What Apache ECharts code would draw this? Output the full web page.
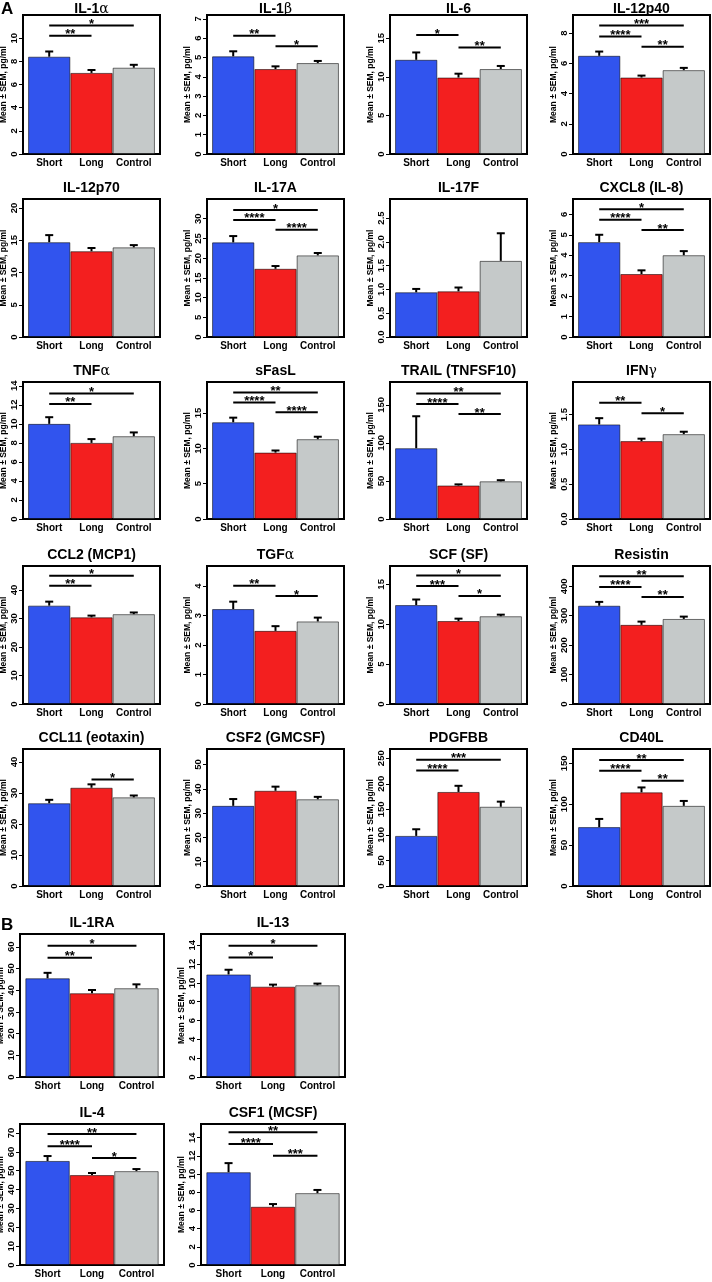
<!DOCTYPE html>
<html>
<head>
<meta charset="utf-8">
<script src="https://cdn.jsdelivr.net/npm/echarts@6/dist/echarts.min.js"></script>
<style>
html, body { margin: 0; padding: 0; background: #fff; }
#chart { width: 712px; height: 1282px; }
</style>
</head>
<body>
<div id="chart"></div>
<script>
// groups on the x axis of every panel
var groups = ['Short', 'Long', 'Control'];

// panel titles ({g|..} = greek letter)
var titles = [
    'IL-1{g|α}', 'IL-1{g|β}', 'IL-6', 'IL-12p40',
    'IL-12p70', 'IL-17A', 'IL-17F', 'CXCL8 (IL-8)',
    'TNF{g|α}', 'sFasL', 'TRAIL (TNFSF10)', 'IFN{g|γ}',
    'CCL2 (MCP1)', 'TGF{g|α}', 'SCF (SF)', 'Resistin',
    'CCL11 (eotaxin)', 'CSF2 (GMCSF)', 'PDGFBB', 'CD40L',
    'IL-1RA', 'IL-13', 'IL-4', 'CSF1 (MCSF)'
];

// mean values, pg/ml (Short, Long, Control)
var means = [
    [8.4, 7.0, 7.45], [5.06, 4.40, 4.71], [12.2, 9.9, 11.0], [6.5, 5.06, 5.55],
    [14.7, 13.3, 13.9], [24.0, 17.3, 20.7], [0.94, 0.96, 1.6], [4.64, 3.08, 4.0],
    [10.0, 8.0, 8.7], [13.7, 9.4, 11.3], [93, 44, 49.5], [1.36, 1.12, 1.22],
    [34.5, 30.4, 31.5], [3.22, 2.48, 2.8], [12.4, 10.4, 11.0], [334, 269, 289],
    [26.7, 31.7, 28.6], [33.0, 39.2, 35.7], [98, 184, 155], [72, 114.5, 98],
    [45.5, 38.6, 40.9], [10.9, 9.6, 9.75], [55.2, 47.7, 49.8], [10.2, 6.4, 7.9]
];

// SEM
var sems = [
    [0.45, 0.25, 0.25], [0.26, 0.14, 0.11], [0.95, 0.5, 0.4], [0.28, 0.13, 0.15],
    [1.1, 0.5, 0.35], [1.6, 0.7, 0.6], [0.07, 0.08, 0.58], [0.36, 0.18, 0.2],
    [0.7, 0.4, 0.4], [0.65, 0.3, 0.35], [42, 1.5, 1.5], [0.09, 0.035, 0.035],
    [1.4, 0.6, 0.6], [0.25, 0.16, 0.13], [0.7, 0.3, 0.2], [13, 11, 8],
    [1.1, 1.1, 0.6], [2.8, 1.7, 1.0], [13, 12, 10], [10, 6, 6],
    [2.5, 1.5, 1.8], [0.5, 0.22, 0.18], [2.6, 1.1, 1.1], [1.0, 0.3, 0.35]
];

// top of each y axis
var yMax = [
    12, 7.2, 18, 9.2,
    21.4, 35, 2.9, 6.75,
    14.4, 19.4, 180, 1.97,
    48.4, 4.68, 17.3, 469,
    44.2, 56.4, 268, 167.5,
    65.9, 15.2, 74.8, 15.5
];

// y tick labels
var yTicks = [
    ['0', '2', '4', '6', '8', '10'],
    ['0', '1', '2', '3', '4', '5', '6', '7'],
    ['0', '5', '10', '15'],
    ['0', '2', '4', '6', '8'],
    ['0', '5', '10', '15', '20'],
    ['0', '5', '10', '15', '20', '25', '30'],
    ['0.0', '0.5', '1.0', '1.5', '2.0', '2.5'],
    ['0', '1', '2', '3', '4', '5', '6'],
    ['0', '2', '4', '6', '8', '10', '12', '14'],
    ['0', '5', '10', '15'],
    ['0', '50', '100', '150'],
    ['0.0', '0.5', '1.0', '1.5'],
    ['0', '10', '20', '30', '40'],
    ['0', '1', '2', '3', '4'],
    ['0', '5', '10', '15'],
    ['0', '100', '200', '300', '400'],
    ['0', '10', '20', '30', '40'],
    ['0', '10', '20', '30', '40', '50'],
    ['0', '50', '100', '150', '200', '250'],
    ['0', '50', '100', '150'],
    ['0', '10', '20', '30', '40', '50', '60'],
    ['0', '2', '4', '6', '8', '10', '12', '14'],
    ['0', '10', '20', '30', '40', '50', '60', '70'],
    ['0', '2', '4', '6', '8', '10', '12', '14']
];

// significance bars: [from group, to group, height, stars]
var sigBars = [
    [[0, 1, 10.2, '**'], [0, 2, 11.1, '*']],
    [[0, 1, 6.13, '**'], [1, 2, 5.58, '*']],
    [[0, 1, 15.4, '*'], [1, 2, 13.8, '**']],
    [[0, 2, 8.5, '***'], [0, 1, 7.78, '****'], [1, 2, 7.1, '**']],
    [],
    [[0, 2, 32.2, '*'], [0, 1, 29.7, '****'], [1, 2, 27.2, '****']],
    [],
    [[0, 2, 6.25, '*'], [0, 1, 5.73, '****'], [1, 2, 5.23, '**']],
    [[0, 2, 13.2, '*'], [0, 1, 12.1, '**']],
    [[0, 2, 17.9, '**'], [0, 1, 16.5, '****'], [1, 2, 15.1, '****']],
    [[0, 2, 165, '**'], [0, 1, 151, '****'], [1, 2, 138, '**']],
    [[0, 1, 1.67, '**'], [1, 2, 1.52, '*']],
    [[0, 2, 45, '*'], [0, 1, 41.5, '**']],
    [[0, 1, 4.01, '**'], [1, 2, 3.66, '*']],
    [[0, 2, 16.1, '*'], [0, 1, 14.8, '***'], [1, 2, 13.55, '*']],
    [[0, 2, 434, '**'], [0, 1, 398, '****'], [1, 2, 364, '**']],
    [[1, 2, 34.4, '*']],
    [],
    [[0, 2, 247, '***'], [0, 1, 226, '****']],
    [[0, 2, 154, '**'], [0, 1, 141, '****'], [1, 2, 128.7, '**']],
    [[0, 2, 60.5, '*'], [0, 1, 55, '**']],
    [[0, 2, 13.95, '*'], [0, 1, 12.7, '*']],
    [[0, 2, 69.5, '**'], [0, 1, 63, '****'], [1, 2, 56.8, '*']],
    [[0, 2, 14.6, '**'], [0, 1, 13.3, '****'], [1, 2, 12.0, '***']]
];

var FONT = 'Liberation Sans, Arial, Helvetica, sans-serif';
var barColors = ['#3154EE', '#F31F1F', '#C5C9C9'];

function panelRect(i) {
    if (i < 20) {
        var col = i % 4, row = Math.floor(i / 4);
        return {
            left: [23, 207, 390, 573][col], width: 137,
            top: [15, 199, 382, 566, 749][row], height: [139, 138, 137, 138, 137][row]
        };
    }
    var j = i - 20;
    return {
        left: [20, 201][j % 2], width: 144,
        top: [934, 1124][Math.floor(j / 2)], height: [143, 141][Math.floor(j / 2)]
    };
}

function renderError(params, api) {
    var x = api.value(0);
    var p0 = api.coord([x, api.value(1)]);
    var p1 = api.coord([x, api.value(2)]);
    return {
        type: 'group',
        children: [
            { type: 'line', shape: { x1: p0[0], y1: p0[1], x2: p1[0], y2: p1[1] }, style: { stroke: '#000', lineWidth: 2 } },
            { type: 'line', shape: { x1: p1[0] - 4, y1: p1[1], x2: p1[0] + 4, y2: p1[1] }, style: { stroke: '#000', lineWidth: 2 } }
        ]
    };
}

function makeSigRenderer(i) {
    return function (params, api) {
        var a = api.coord([api.value(0), api.value(2)]);
        var b = api.coord([api.value(1), api.value(2)]);
        var stars = sigBars[i][params.dataIndex][3];
        return {
            type: 'group',
            children: [
                { type: 'line', shape: { x1: a[0], y1: a[1], x2: b[0], y2: b[1] }, style: { stroke: '#000', lineWidth: 2 } },
                {
                    type: 'text',
                    style: {
                        text: stars, x: (a[0] + b[0]) / 2, y: a[1] - 1,
                        align: 'center', verticalAlign: 'middle',
                        fontSize: 13, fontWeight: 'bold', fontFamily: FONT, fill: '#000'
                    }
                }
            ]
        };
    };
}

var grids = [], xAxes = [], yAxes = [], series = [], titleList = [];

for (var i = 0; i < titles.length; i++) {
    var r = panelRect(i);
    grids.push({
        left: r.left, top: r.top, width: r.width, height: r.height,
        show: true, borderColor: '#000', borderWidth: 2,
        containLabel: false, outerBoundsMode: 'none'
    });

    titleList.push({
        text: titles[i],
        left: r.left + r.width / 2,
        top: i < 4 ? 2 : r.top - 17.5,
        textAlign: 'center',
        padding: 0,
        textStyle: {
            fontSize: 14, fontWeight: 'bold', fontFamily: FONT, color: '#000',
            rich: { g: { fontFamily: 'DejaVu Serif', fontSize: 14, fontWeight: 'normal', color: '#000' } }
        }
    });

    xAxes.push({
        type: 'value', gridIndex: i, min: -0.62, max: 2.62,
        axisLine: { show: true, onZero: false, lineStyle: { color: '#000', width: 2 } },
        axisTick: { show: false },
        splitLine: { show: false },
        axisLabel: {
            customValues: [0, 1, 2],
            formatter: function (v) { return groups[Math.round(v)]; },
            fontSize: 10, fontWeight: 'bold', fontFamily: FONT, color: '#000', margin: 4
        }
    });

    var tickVals = yTicks[i].map(Number);
    yAxes.push({
        type: 'value', gridIndex: i, min: 0, max: yMax[i],
        name: 'Mean ± SEM, pg/ml', nameLocation: 'middle', nameGap: 14,
        nameTextStyle: { fontSize: 8.5, fontWeight: 'bold', fontFamily: FONT, color: '#000' },
        axisLine: { show: true, onZero: false, lineStyle: { color: '#000', width: 2 } },
        axisTick: { show: true, length: 4, lineStyle: { color: '#000', width: 1 }, customValues: tickVals },
        splitLine: { show: false },
        axisLabel: {
            customValues: tickVals,
            rotate: 90, margin: 4,
            fontSize: 9.5, fontWeight: 'bold', fontFamily: FONT, color: '#000',
            formatter: (function (labels) {
                return function (v) {
                    for (var k = 0; k < labels.length; k++) {
                        if (Math.abs(Number(labels[k]) - v) < 1e-9) return labels[k];
                    }
                    return '';
                };
            })(yTicks[i])
        }
    });

    series.push({
        type: 'bar', xAxisIndex: i, yAxisIndex: i, barWidth: '100%', silent: true,
        itemStyle: { borderColor: 'rgba(0,0,0,0.55)', borderWidth: 1 },
        data: means[i].map(function (v, k) {
            return { value: [k, v], itemStyle: { color: barColors[k] } };
        })
    });

    series.push({
        type: 'custom', xAxisIndex: i, yAxisIndex: i, z: 3, silent: true,
        renderItem: renderError,
        data: means[i].map(function (v, k) { return [k, v, v + sems[i][k]]; })
    });

    if (sigBars[i].length) {
        series.push({
            type: 'custom', xAxisIndex: i, yAxisIndex: i, z: 4, silent: true,
            renderItem: makeSigRenderer(i),
            data: sigBars[i].map(function (s) { return [s[0], s[1], s[2]]; })
        });
    }
}

// section letters
titleList.push({ text: 'A', left: 1, top: 1, padding: 0, textStyle: { fontSize: 17, fontWeight: 'bold', fontFamily: FONT, color: '#000' } });
titleList.push({ text: 'B', left: 1, top: 917, padding: 0, textStyle: { fontSize: 17, fontWeight: 'bold', fontFamily: FONT, color: '#000' } });

var chart = echarts.init(document.getElementById('chart'));
chart.setOption({
    animation: false,
    backgroundColor: '#fff',
    title: titleList,
    grid: grids,
    xAxis: xAxes,
    yAxis: yAxes,
    series: series
});
</script>
</body>
</html>
